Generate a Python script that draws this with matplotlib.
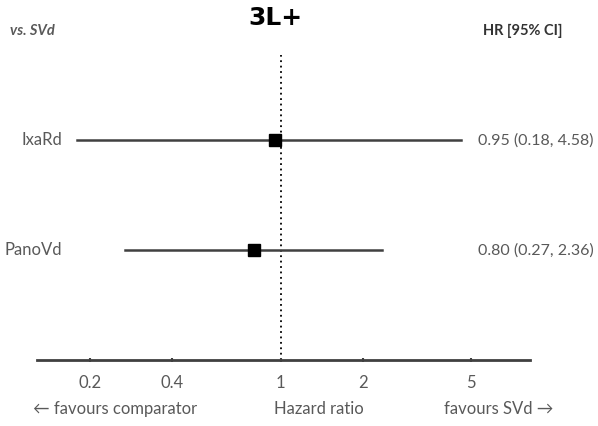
import numpy as np
import matplotlib.pyplot as plt
import matplotlib.transforms as mtransforms

# Hazard ratios vs. SVd, 3L+ setting
treatments = ["IxaRd", "PanoVd"]
hr = [0.95, 0.80]
ci_low = [0.18, 0.27]
ci_high = [4.58, 2.36]
row_y = [0.72, 0.36]

ticks = [0.2, 0.4, 1, 2, 5]
tick_labels = ["0.2", "0.4", "1", "2", "5"]

grey = "#595959"
line_col = "#404040"
fs = 12
plt.rcParams['font.family'] = ['Lato', 'DejaVu Sans']

W, H = 598, 426
fig = plt.figure(figsize=(W / 100, H / 100), dpi=100)
ax = fig.add_axes([37 / W, (H - 360) / H, 493 / W, 305 / H])
ax.set_xscale("log")
ax.set_xlim(0.128, 8.2)
ax.set_ylim(0, 1)

for s in ["top", "left", "right"]:
    ax.spines[s].set_visible(False)
ax.spines["bottom"].set_color(line_col)
ax.spines["bottom"].set_linewidth(2)
ax.set_yticks([])
ax.set_xticks(ticks)
ax.set_xticklabels(tick_labels, color=grey, fontsize=fs)
ax.xaxis.set_minor_locator(plt.NullLocator())
ax.tick_params(axis="x", length=3, width=1.5, color=line_col, pad=9,
               direction="inout")

# null line at HR = 1
ax.axvline(1, color="black", linestyle=(0, (1, 2)), linewidth=1.3, zorder=1)

for y, h, lo, hi in zip(row_y, hr, ci_low, ci_high):
    ax.plot([lo, hi], [y, y], color=line_col, linewidth=1.8, zorder=2)
    ax.plot(h, y, marker="s", markersize=9, color="black", zorder=3)

trans = mtransforms.blended_transform_factory(fig.transFigure, ax.transData)
for name, y, h, lo, hi in zip(treatments, row_y, hr, ci_low, ci_high):
    ax.text(62 / W, y, name, transform=trans, ha="right", va="center",
            color=grey, fontsize=fs)
    ax.text(478 / W, y, f"{h:.2f} ({lo:.2f}, {hi:.2f})", transform=trans,
            ha="left", va="center", color=grey, fontsize=11.5)

fig.text(275 / W, 1 - 18 / H, "3L+", ha="center", va="center",
         fontsize=18, fontweight="bold", color="black",
         family=["DejaVu Sans"])
fig.text(10 / W, 1 - 31 / H, "vs. SVd", ha="left", va="center",
         fontsize=10.5, fontweight="bold", style="italic", color=grey)
fig.text(483 / W, 1 - 31 / H, "HR [95% CI]", ha="left", va="center",
         fontsize=10.5, fontweight="bold", color="#333333")

fig.text(33 / W, 1 - 409 / H, "\u2190 favours comparator", ha="left",
         va="center", fontsize=fs, color=grey)
fig.text(319 / W, 1 - 409 / H, "Hazard ratio", ha="center", va="center",
         fontsize=fs, color=grey)
fig.text(553 / W, 1 - 409 / H, "favours SVd \u2192", ha="right", va="center",
         fontsize=fs, color=grey)

fig.savefig("out.png", dpi=100)
